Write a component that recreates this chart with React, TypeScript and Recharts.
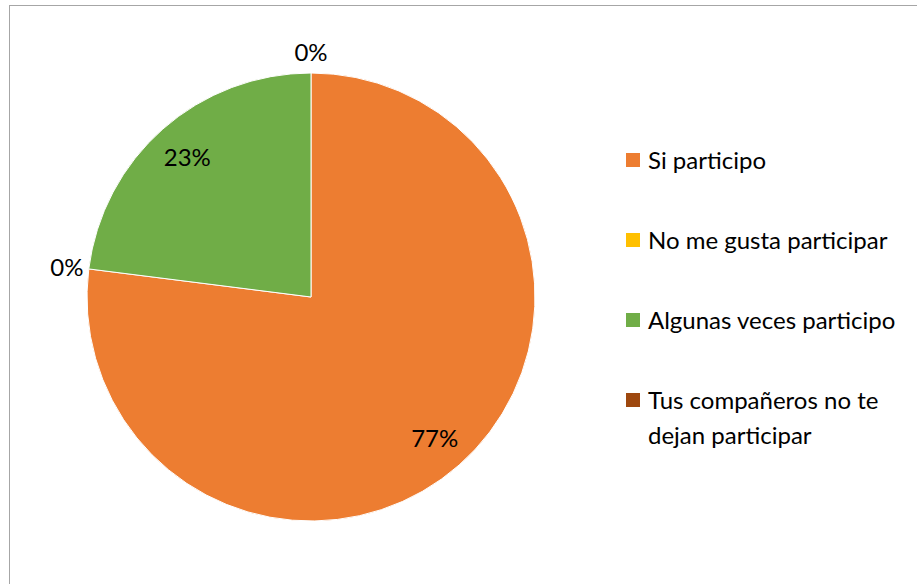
import { PieChart, Pie, Cell, Legend } from "recharts"

const categories = ["Si participo", "No me gusta participar", "Algunas veces participo", "Tus compañeros no te dejan participar"]
const values = [77, 0, 23, 0]
const colors = ["#ED7D31", "#FFC000", "#70AD47", "#9E480E"]

const data = categories.map((name, i) => ({ name, value: values[i] }))

const FONT = "Lato, 'Noto Sans', sans-serif"
const RAD = Math.PI / 180

const renderLabel = (props: any) => {
  const { cx, cy, midAngle, outerRadius, value } = props
  // zero slices sit outside the pie, the others inside
  const r = value === 0 ? outerRadius + 22 : outerRadius * 0.835
  const x = cx + r * Math.cos(-midAngle * RAD)
  const y = cy + r * Math.sin(-midAngle * RAD)
  return (
    <text x={x} y={y} textAnchor="middle" dominantBaseline="central" fontFamily={FONT} fontSize={24} fill="#000">
      {`${value}%`}
    </text>
  )
}

const LegendContent = () => (
  <div style={{ fontFamily: FONT, fontSize: 24, color: "#000" }}>
    {categories.map((name, i) => (
      <div key={name} style={{ display: "flex", alignItems: "flex-start", lineHeight: "35px", marginBottom: 45 }}>
        <span style={{ width: 14, height: 14, background: colors[i], marginTop: 11, marginRight: 8, flex: "none" }} />
        <span style={{ width: 262 }}>{name}</span>
      </div>
    ))}
  </div>
)

export default function App() {
  return (
    <div style={{ position: "absolute", left: 0, top: 0, width: 917, height: 584, overflow: "hidden", background: "#fff" }}>
      <div style={{ position: "absolute", left: 9, top: 5, width: 1000, height: 1000, border: "1px solid #a6a6a6" }} />
      <PieChart width={917} height={584} style={{ position: "absolute", left: 0, top: 0 }}>
        <Pie
          data={data}
          dataKey="value"
          nameKey="name"
          cx={306}
          cy={292}
          outerRadius={224}
          startAngle={90}
          endAngle={-270}
          stroke="#fff"
          strokeWidth={1}
          label={renderLabel}
          labelLine={false}
          isAnimationActive={false}
        >
          {data.map((d, i) => (
            <Cell key={d.name} fill={colors[i]} />
          ))}
        </Pie>
        <Legend
          layout="vertical"
          content={<LegendContent />}
          wrapperStyle={{ left: 626, top: 142, width: 291 }}
        />
      </PieChart>
    </div>
  )
}
